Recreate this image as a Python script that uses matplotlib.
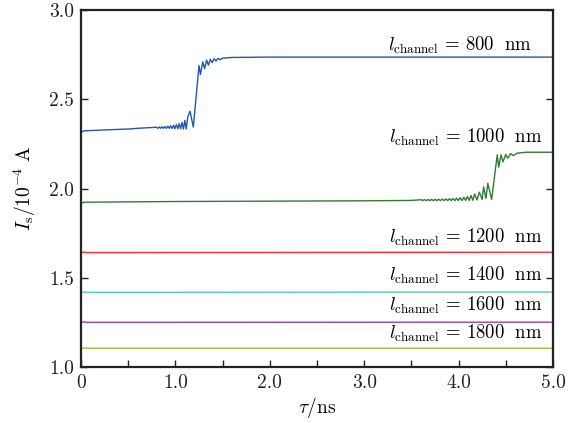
import numpy as np
import matplotlib.pyplot as plt
from matplotlib.ticker import FixedLocator, FixedFormatter

plt.rcParams['font.family'] = 'serif'
plt.rcParams['font.serif'] = ['cmr10']
plt.rcParams['mathtext.fontset'] = 'cm'
plt.rcParams['axes.formatter.use_mathtext'] = True

# channel length 800 nm
t_800 = [0.0, 0.03, 0.3, 0.5, 0.6, 0.70,
         0.800, 0.815, 0.830, 0.845, 0.860, 0.875, 0.890, 0.905, 0.920, 0.935,
         0.950, 0.965, 0.980, 0.995, 1.010, 1.025, 1.040, 1.055, 1.070, 1.085,
         1.100, 1.115, 1.130, 1.155, 1.19,
         1.25, 1.265, 1.29, 1.31, 1.33, 1.35, 1.37, 1.39, 1.41, 1.43, 1.45, 1.47,
         1.50, 1.60, 2.0, 5.0]
i_800 = [2.316, 2.324, 2.330, 2.334, 2.338, 2.341,
         2.344, 2.338, 2.346, 2.338, 2.347, 2.338, 2.348, 2.338, 2.350, 2.338,
         2.352, 2.337, 2.355, 2.336, 2.359, 2.336, 2.364, 2.335, 2.371, 2.334,
         2.382, 2.334, 2.400, 2.434, 2.345,
         2.690, 2.640, 2.710, 2.672, 2.720, 2.692, 2.725, 2.706, 2.728, 2.715,
         2.730, 2.722, 2.731, 2.735, 2.737, 2.737]

# channel length 1000 nm
t_1000 = [0.0, 0.03, 0.5, 1.0, 2.0, 3.0, 3.5,
          3.600, 3.619, 3.638, 3.657, 3.676, 3.695, 3.714, 3.733, 3.752, 3.771,
          3.790, 3.809, 3.828, 3.847, 3.866, 3.885, 3.904, 3.923, 3.942, 3.961,
          3.980, 3.999, 4.018, 4.037, 4.056, 4.075, 4.094, 4.113, 4.132, 4.151,
          4.170, 4.195, 4.220, 4.250, 4.265, 4.290, 4.310, 4.350,
          4.41, 4.425, 4.45, 4.47, 4.50, 4.52, 4.55, 4.58, 4.62, 4.72, 5.0]
i_1000 = [1.917, 1.924, 1.926, 1.928, 1.930, 1.932, 1.934,
          1.938, 1.933, 1.939, 1.933, 1.939, 1.933, 1.940, 1.933, 1.940, 1.933,
          1.941, 1.933, 1.942, 1.933, 1.943, 1.933, 1.944, 1.933, 1.945, 1.933,
          1.947, 1.933, 1.949, 1.933, 1.952, 1.934, 1.956, 1.934, 1.962, 1.935,
          1.970, 1.937, 1.980, 1.940, 2.010, 1.945, 2.030, 1.940,
          2.190, 2.120, 2.190, 2.150, 2.192, 2.170, 2.196, 2.185, 2.199, 2.204,
          2.204]

# flat channels
t_flat = [0.0, 0.03, 0.06, 5.0]
i_1200 = [1.640, 1.645, 1.642, 1.644]
i_1400 = [1.417, 1.422, 1.419, 1.421]
i_1600 = [1.250, 1.254, 1.251, 1.252]
i_1800 = [1.105, 1.108, 1.106, 1.106]

labels = ['800', '1000', '1200', '1400', '1600', '1800']
label_x = [4.78, 4.89, 4.89, 4.89, 4.89, 4.89]
label_y = [2.80, 2.285, 1.728, 1.515, 1.347, 1.190]

fig = plt.figure(figsize=(5.87, 4.23), dpi=100)
ax = fig.add_axes([0.138, 0.132, 0.804, 0.844])

lw = 1.0
ax.plot(t_800, i_800, color='#2356ad', lw=lw)
ax.plot(t_1000, i_1000, color='#2e7d32', lw=lw)
ax.plot(t_flat, i_1200, color='#ff2a2a', lw=lw)
ax.plot(t_flat, i_1400, color='#55c3cf', lw=lw)
ax.plot(t_flat, i_1600, color='#9b3fae', lw=lw)
ax.plot(t_flat, i_1800, color='#b3b23a', lw=lw)

for lab, x, y in zip(labels, label_x, label_y):
    ax.text(x, y, r'$l_{\mathrm{channel}}\,=\,' + lab + r'\ \ \mathrm{nm}$',
            ha='right', va='center', fontsize=13.5)

ax.set_xlim(0, 5.0)
ax.set_ylim(1.0, 3.0)

xt = [0, 0.5, 1.0, 1.5, 2.0, 2.5, 3.0, 3.5, 4.0, 4.5, 5.0]
xt_lab = ['0', '', '1.0', '', '2.0', '', '3.0', '', '4.0', '', '5.0']
yt = [1.0, 1.5, 2.0, 2.5, 3.0]
yt_lab = ['1.0', '1.5', '2.0', '2.5', '3.0']
ax.xaxis.set_major_locator(FixedLocator(xt))
ax.xaxis.set_major_formatter(FixedFormatter(xt_lab))
ax.yaxis.set_major_locator(FixedLocator(yt))
ax.yaxis.set_major_formatter(FixedFormatter(yt_lab))

ax.tick_params(direction='in', length=5, width=1, labelsize=14, colors='#222222',
               right=True, pad=5)
for s in ax.spines.values():
    s.set_linewidth(1.6)
    s.set_color('#222222')

ax.set_xlabel(r'$\tau/\mathrm{ns}$', fontsize=14, labelpad=2)
ax.set_ylabel(r'$I_{\mathrm{s}}/10^{-4}\ \mathrm{A}$', fontsize=14, labelpad=8)

fig.savefig('out.png', dpi=100)
